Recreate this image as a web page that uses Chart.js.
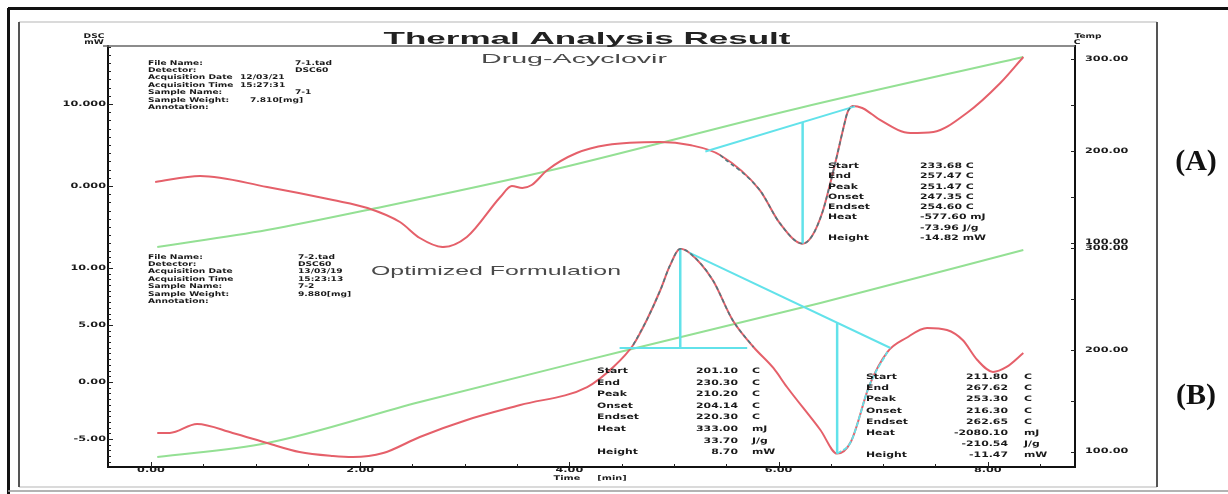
<!DOCTYPE html>
<html>
<head>
<meta charset="utf-8">
<script src="https://cdn.jsdelivr.net/npm/chart.js@4.4.1/dist/chart.umd.min.js"></script>
<style>
  html, body { margin: 0; padding: 0; background: #fff; }
  canvas { display: block; }
</style>
</head>
<body>
<canvas id="dsc" width="1228" height="494"></canvas>
<script>
// ---- axis tick values ----
const timeTicks = [0, 2, 4, 6, 8];              // min
const upperDscTicks = [10, 0];                  // mW
const lowerDscTicks = [10, 5, 0, -5];           // mW
const upperTempTicks = [300, 200, 100];         // C
const lowerTempTicks = [300, 200, 100];         // C

// ---- Drug-Acyclovir: DSC signal ----
const acvTime = [0.04, 0.47, 1.11, 1.74, 2.07, 2.38, 2.57, 2.79, 3.02, 3.34, 3.45, 3.55, 3.64, 3.79, 4.07,
                 4.36, 4.87, 5.15, 5.44, 5.82, 6.01, 6.23, 6.32, 6.42, 6.49, 6.56, 6.62, 6.66, 6.71, 6.80,
                 6.89, 6.97, 7.26, 7.48, 7.80, 8.12, 8.34];
const acvDsc = [0.49, 1.22, -0.12, -1.71, -2.68, -4.39, -6.34, -7.44, -6.22, -1.34, 0.00, -0.24, 0.12, 1.95, 4.02,
                5.00, 5.37, 5.00, 3.78, -0.49, -4.51, -7.03, -6.10, -3.17, 0.12, 3.78, 7.07, 9.02, 9.76, 9.51,
                8.78, 8.05, 6.46, 6.59, 8.90, 12.56, 15.73];
// Drug-Acyclovir: sample temperature
const acvTempTime = [0.06, 1.11, 2.16, 3.75, 6.20, 8.34];
const acvTemp = [95.1, 113.7, 137.7, 177.0, 247.0, 302.7];

// ---- Optimized Formulation: DSC signal ----
const optTime = [0.06, 0.18, 0.44, 0.78, 1.11, 1.42, 1.74, 1.93, 2.22, 2.57, 3.02, 3.53, 4.17, 4.42, 4.61,
                 4.74, 4.87, 4.96, 5.06, 5.15, 5.37, 5.56, 5.76, 5.95, 6.08, 6.40, 6.56, 6.69, 6.87, 7.04,
                 7.22, 7.42, 7.61, 7.76, 7.90, 8.05, 8.18, 8.34];
const optDsc = [-4.47, -4.47, -3.68, -4.47, -5.35, -6.14, -6.49, -6.58, -6.23, -4.82, -3.33, -2.02, -0.44, 1.32, 3.25,
                5.44, 8.07, 10.18, 11.68, 11.32, 8.95, 5.44, 3.07, 1.23, -0.44, -4.21, -6.28, -5.26, -0.26, 2.63,
                3.86, 4.74, 4.56, 3.68, 1.93, 0.88, 1.32, 2.54];
// Optimized Formulation: sample temperature
const optTempTime = [0.06, 1.11, 2.57, 4.48, 6.40, 8.34];
const optTemp = [94.6, 108.4, 148.8, 198.0, 246.3, 298.5];

// ---- peak analysis constructions (time, mW) ----
const acvBaseTime = [5.30, 6.73];      const acvBaseDsc = [4.21, 9.71];
const acvPeakTime = [6.23, 6.23];      const acvPeakDsc = [-7.03, 7.79];
const optBase1Time = [4.48, 5.70];     const optBase1Dsc = [2.98, 2.98];
const optPeak1Time = [5.06, 5.06];     const optPeak1Dsc = [11.68, 2.98];
const optBase2Time = [5.15, 7.07];     const optBase2Dsc = [11.32, 2.98];
const optPeak2Time = [6.56, 6.56];     const optPeak2Dsc = [-6.28, 5.19];
// integrated ranges of each curve
const acvRange = [5.30, 6.73];
const optRanges = [[4.55, 5.90], [6.56, 7.07]];

// ---- printed text ----
const acvInfo = [
  ['File Name:', '7-1.tad'], ['Detector:', 'DSC60'], ['Acquisition Date', '12/03/21'],
  ['Acquisition Time', '15:27:31'], ['Sample Name:', '7-1'], ['Sample Weight:', '7.810[mg]'], ['Annotation:', '']
];
const optInfo = [
  ['File Name:', '7-2.tad'], ['Detector:', 'DSC60'], ['Acquisition Date', '13/03/19'],
  ['Acquisition Time', '15:23:13'], ['Sample Name:', '7-2'], ['Sample Weight:', '9.880[mg]'], ['Annotation:', '']
];
const acvResult = [
  ['Start', '233.68 C'], ['End', '257.47 C'], ['Peak', '251.47 C'], ['Onset', '247.35 C'],
  ['Endset', '254.60 C'], ['Heat', '-577.60 mJ'], ['', '-73.96 J/g'], ['Height', '-14.82 mW']
];
const optResult1 = [
  ['Start', '201.10', 'C'], ['End', '230.30', 'C'], ['Peak', '210.20', 'C'], ['Onset', '204.14', 'C'],
  ['Endset', '220.30', 'C'], ['Heat', '333.00', 'mJ'], ['', '33.70', 'J/g'], ['Height', '8.70', 'mW']
];
const optResult2 = [
  ['Start', '211.80', 'C'], ['End', '267.62', 'C'], ['Peak', '253.30', 'C'], ['Onset', '216.30', 'C'],
  ['Endset', '262.65', 'C'], ['Heat', '-2080.10', 'mJ'], ['', '-210.54', 'J/g'], ['Height', '-11.47', 'mW']
];

// ---- helpers ----
const pts = (xs, ys) => xs.map((x, i) => ({ x, y: ys[i] }));
const within = (xs, ys, lo, hi) => pts(xs, ys).filter(p => p.x >= lo && p.x <= hi);

const RED = '#e5606a';
const GREEN = '#94e094';
const CYAN = '#62e2ea';
const DARK = '#4f7a80';

function lineSet(data, yAxisID, color, width, extra) {
  return Object.assign({
    data, yAxisID, xAxisID: 'x', borderColor: color, borderWidth: width,
    pointRadius: 0, fill: false, tension: 0
  }, extra || {});
}

function wideText(ctx, text, x, y, font, sx, align, color) {
  ctx.save();
  ctx.font = font;
  ctx.fillStyle = color || '#1a1a1a';
  ctx.textAlign = align || 'left';
  ctx.textBaseline = 'middle';
  ctx.translate(x, y);
  ctx.scale(sx, 1);
  ctx.fillText(text, 0, 0);
  ctx.restore();
}
function fitText(ctx, text, x, y, font, width, color) {
  ctx.save();
  ctx.font = font;
  const sx = width / ctx.measureText(text).width;
  ctx.restore();
  wideText(ctx, text, x, y, font, sx, 'center', color);
}
function seg(ctx, x1, y1, x2, y2) {
  ctx.beginPath(); ctx.moveTo(x1, y1); ctx.lineTo(x2, y2); ctx.stroke();
}

const SMALL = 'bold 6.5px "DejaVu Sans"';
const TICK = 'bold 7.5px "DejaVu Sans"';
const RES = 'bold 7.5px "DejaVu Sans"';

const decorations = {
  id: 'decorations',
  beforeDraw(chart) {
    const { ctx } = chart;
    ctx.save();
    ctx.fillStyle = '#fff';
    ctx.fillRect(0, 0, chart.width, chart.height);
    ctx.restore();
  },
  afterDraw(chart) {
    const { ctx, chartArea: a, scales } = chart;
    ctx.save();

    // outer border
    ctx.strokeStyle = '#111'; ctx.lineWidth = 3;
    seg(ctx, 8, 8.5, 1228, 8.5);
    seg(ctx, 8.5, 8, 8.5, 494);
    ctx.strokeStyle = '#9a9a9a'; ctx.lineWidth = 1.5;
    seg(ctx, 8, 491, 1228, 491);

    // inner panel frame
    ctx.strokeStyle = '#b5b5b5'; ctx.lineWidth = 1.2;
    seg(ctx, 19, 22, 1157, 22);
    seg(ctx, 19, 487, 1157, 487);
    ctx.strokeStyle = '#555'; ctx.lineWidth = 2;
    seg(ctx, 19, 22, 19, 487);
    seg(ctx, 1157, 22, 1157, 487);

    // plot box top edge
    ctx.strokeStyle = '#666'; ctx.lineWidth = 1.3;
    seg(ctx, a.left - 5, a.top, a.right, a.top);

    // tick marks, pointing into the plot
    ctx.strokeStyle = '#222'; ctx.lineWidth = 1;
    for (const id of ['yA', 'yB']) {
      const s = scales[id];
      const major = id === 'yA' ? upperDscTicks : lowerDscTicks;
      s.ticks.forEach(t => {
        const py = Math.round(s.getPixelForValue(t.value)) + 0.5;
        seg(ctx, a.left, py, a.left + (major.includes(t.value) ? 5 : 3), py);
      });
    }
    for (const id of ['tA', 'tB']) {
      const s = scales[id];
      s.ticks.forEach(t => {
        const py = Math.round(s.getPixelForValue(t.value)) + 0.5;
        seg(ctx, a.right - 4, py, a.right, py);
      });
    }
    scales.x.ticks.forEach(t => {
      const px = Math.round(scales.x.getPixelForValue(t.value)) + 0.5;
      seg(ctx, px, a.bottom, px, a.bottom - (timeTicks.includes(t.value) ? 5 : 3));
    });

    // tick labels
    upperDscTicks.forEach(v => wideText(ctx, v.toFixed(3), a.left - 2, scales.yA.getPixelForValue(v), TICK, 1.5, 'right'));
    lowerDscTicks.forEach(v => wideText(ctx, v.toFixed(2), a.left - 2, scales.yB.getPixelForValue(v), TICK, 1.5, 'right'));
    upperTempTicks.forEach(v => wideText(ctx, v.toFixed(2), a.right + 10, scales.tA.getPixelForValue(v), TICK, 1.5, 'left'));
    lowerTempTicks.forEach(v => wideText(ctx, v.toFixed(2), a.right + 10, scales.tB.getPixelForValue(v), TICK, 1.5, 'left'));
    timeTicks.forEach(v => wideText(ctx, v.toFixed(2), scales.x.getPixelForValue(v), a.bottom + 3, TICK, 1.5, 'center'));

    // axis titles
    wideText(ctx, 'DSC', 94, 36, SMALL, 1.4, 'center');
    wideText(ctx, 'mW', 94, 42, SMALL, 1.4, 'center');
    wideText(ctx, 'Temp', a.right + 13, 36, SMALL, 1.4, 'center');
    wideText(ctx, 'C', a.right + 2, 42, SMALL, 1.4, 'center');
    wideText(ctx, 'Time', 567, 478, SMALL, 1.5, 'center');
    wideText(ctx, '[min]', 612, 478, SMALL, 1.5, 'center');

    // headings
    fitText(ctx, 'Thermal Analysis Result', 587, 39, 'bold 17px "Liberation Sans"', 407, '#222');
    fitText(ctx, 'Drug-Acyclovir', 574, 59, '13px "Liberation Sans"', 186, '#4a4a4a');
    fitText(ctx, 'Optimized Formulation', 496, 271, '13px "Liberation Sans"', 250, '#4a4a4a');

    // sample information
    const acvValX = [295, 295, 240, 240, 295, 250, 0];
    acvInfo.forEach((r, i) => {
      const y = 63 + i * 7.4;
      wideText(ctx, r[0], 148, y, SMALL, 1.4, 'left');
      if (r[1]) wideText(ctx, r[1], acvValX[i], y, SMALL, 1.4, 'left');
    });
    optInfo.forEach((r, i) => {
      const y = 257 + i * 7.4;
      wideText(ctx, r[0], 148, y, SMALL, 1.4, 'left');
      if (r[1]) wideText(ctx, r[1], 298, y, SMALL, 1.4, 'left');
    });

    // peak analysis results
    acvResult.forEach((r, i) => {
      const y = 166 + i * 10.3;
      if (r[0]) wideText(ctx, r[0], 828, y, RES, 1.45, 'left');
      wideText(ctx, r[1], 920, y, RES, 1.45, 'left');
    });
    optResult1.forEach((r, i) => {
      const y = 371 + i * 11.6;
      if (r[0]) wideText(ctx, r[0], 597, y, RES, 1.45, 'left');
      wideText(ctx, r[1], 738, y, RES, 1.45, 'right');
      wideText(ctx, r[2], 752, y, RES, 1.45, 'left');
    });
    optResult2.forEach((r, i) => {
      const y = 377 + i * 11.2;
      if (r[0]) wideText(ctx, r[0], 866, y, RES, 1.45, 'left');
      wideText(ctx, r[1], 1008, y, RES, 1.45, 'right');
      wideText(ctx, r[2], 1024, y, RES, 1.45, 'left');
    });

    // panel letters
    wideText(ctx, '(A)', 1196, 162, 'bold 30px "Liberation Serif"', 1.0, 'center', '#111');
    wideText(ctx, '(B)', 1196, 396, 'bold 30px "Liberation Serif"', 1.0, 'center', '#111');

    ctx.restore();
  }
};

// ticks for one linear scale at a fixed step
function stepTicks(step) {
  return function (scale) {
    const out = [];
    const first = Math.ceil(scale.min / step - 1e-9);
    const last = Math.floor(scale.max / step + 1e-9);
    for (let k = first; k <= last; k++) out.push({ value: +(k * step).toFixed(6) });
    scale.ticks = out;
  };
}
function yScale(position, min, max, weight, step) {
  return {
    type: 'linear', position, stack: position, stackWeight: weight, min, max,
    grid: { display: false },
    border: { display: true, color: '#111', width: 2 },
    ticks: { display: false },
    afterBuildTicks: stepTicks(step),
    afterFit(s) { s.width = position === 'left' ? 108 : 153; }
  };
}

const datasets = [
  // integrated part of each curve
  lineSet(within(acvTime, acvDsc, acvRange[0], acvRange[1]), 'yA', DARK, 1.6, { borderDash: [4, 3], cubicInterpolationMode: 'monotone' }),
  lineSet(within(optTime, optDsc, optRanges[0][0], optRanges[0][1]), 'yB', DARK, 1.6, { borderDash: [4, 3], cubicInterpolationMode: 'monotone' }),
  lineSet(within(optTime, optDsc, optRanges[1][0], optRanges[1][1]), 'yB', CYAN, 1.8, { borderDash: [5, 2], cubicInterpolationMode: 'monotone' }),
  // baselines and peak heights
  lineSet(pts(acvBaseTime, acvBaseDsc), 'yA', CYAN, 2),
  lineSet(pts(acvPeakTime, acvPeakDsc), 'yA', CYAN, 2.5),
  lineSet(pts(optBase1Time, optBase1Dsc), 'yB', CYAN, 2),
  lineSet(pts(optPeak1Time, optPeak1Dsc), 'yB', CYAN, 2.5),
  lineSet(pts(optBase2Time, optBase2Dsc), 'yB', CYAN, 2),
  lineSet(pts(optPeak2Time, optPeak2Dsc), 'yB', CYAN, 2.5),
  // DSC curves
  lineSet(pts(acvTime, acvDsc), 'yA', RED, 2, { cubicInterpolationMode: 'monotone' }),
  lineSet(pts(optTime, optDsc), 'yB', RED, 2, { cubicInterpolationMode: 'monotone' }),
  // temperature
  lineSet(pts(acvTempTime, acvTemp), 'tA', GREEN, 2, { cubicInterpolationMode: 'monotone' }),
  lineSet(pts(optTempTime, optTemp), 'tB', GREEN, 2, { cubicInterpolationMode: 'monotone' })
];

new Chart(document.getElementById('dsc'), {
  type: 'line',
  data: { datasets },
  options: {
    responsive: false,
    animation: false,
    devicePixelRatio: 1,
    events: [],
    layout: { padding: { top: 46, left: 0, right: 0, bottom: 0 } },
    plugins: { legend: { display: false }, tooltip: { enabled: false }, title: { display: false } },
    scales: {
      x: {
        type: 'linear', position: 'bottom', min: -0.411, max: 8.834,
        grid: { display: false },
        border: { display: true, color: '#111', width: 2 },
        ticks: { display: false },
        afterBuildTicks: stepTicks(0.5),
        afterFit(s) { s.height = 27; }
      },
      yB: yScale('left', -7.456, 11.754, 219, 0.5),
      yA: yScale('left', -7.56, 17.07, 202, 1),
      tA: yScale('right', 93.99, 314.75, 202, 50),
      tB: yScale('right', 84.73, 300.49, 219, 50)
    }
  },
  plugins: [decorations]
});
</script>
</body>
</html>
